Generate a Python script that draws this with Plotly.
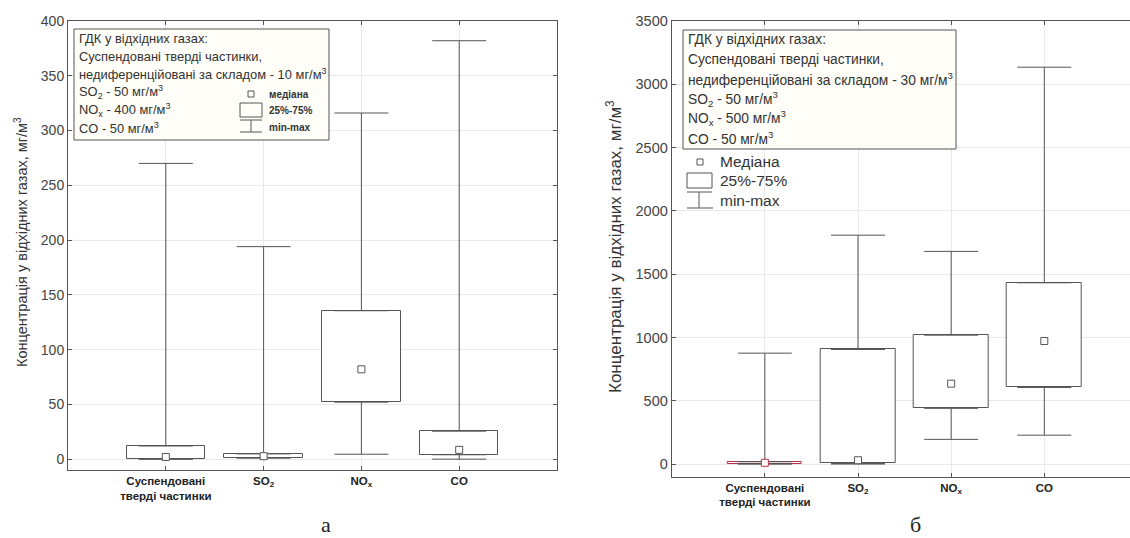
import plotly.graph_objects as go

W, H = 1130, 538

categories = ["<b>Суспендовані<br>тверді частинки</b>", "<b>SO<sub>2</sub></b>", "<b>NO<sub>x</sub></b>", "<b>CO</b>"]
cat_pos = [0, 1, 2, 3]

# panel а (ГДК set 1)
a_min = [0, 1, 4.5, 0]
a_q1 = [0, 1.2, 52, 4]
a_med = [2, 2.7, 82, 8.5]
a_q3 = [12, 4.8, 135.5, 25.5]
a_max = [270, 194, 316, 382]

# panel б (ГДК set 2)
b_min = [0, 0, 195, 228]
b_q1 = [2, 5, 440, 605]
b_med = [10, 30, 635, 972]
b_q3 = [18, 905, 1018, 1432]
b_max = [876, 1808, 1680, 3135]

legend_a = ["ГДК у відхідних газах:",
            "Суспендовані тверді частинки,",
            "недиференційовані за складом - 10 мг/м<sup>3</sup>",
            "SO<sub>2</sub> - 50 мг/м<sup>3</sup>",
            "NO<sub>x</sub> - 400 мг/м<sup>3</sup>",
            "CO - 50 мг/м<sup>3</sup>"]
legend_b = ["ГДК у відхідних газах:",
            "Суспендовані тверді частинки,",
            "недиференційовані за складом - 30 мг/м<sup>3</sup>",
            "SO<sub>2</sub> - 50 мг/м<sup>3</sup>",
            "NO<sub>x</sub> - 500 мг/м<sup>3</sup>",
            "CO - 50 мг/м<sup>3</sup>"]
key_a = ["<b>медіана</b>", "<b>25%-75%</b>", "<b>min-max</b>"]
key_b = ["Медіана", "25%-75%", "min-max"]
ytitle = "Концентрація у відхідних газах, мг/м<sup>3</sup>"

LC = "#555555"
RED = "#b4344c"
FONT = "Liberation Sans, Arial, sans-serif"


def px(x):
    return x / W


def py(y):
    return 1 - y / H


fig = go.Figure()


def add_panel(xa, ya, qmin, q1, med, q3, qmax, box_colors, med_colors):
    fig.add_trace(go.Bar(x=cat_pos, base=q1, y=[b - a for a, b in zip(q1, q3)], width=0.8,
                         marker=dict(color="white", line=dict(color=box_colors, width=1)),
                         xaxis=xa, yaxis=ya, showlegend=False, hoverinfo="skip"))
    fig.add_trace(go.Scatter(x=cat_pos, y=q3, mode="markers",
                             marker=dict(size=1, color="rgba(0,0,0,0)"),
                             error_y=dict(type="data", symmetric=False,
                                          array=[b - a for a, b in zip(q3, qmax)],
                                          arrayminus=[0] * 4, width=27, thickness=1, color=LC),
                             xaxis=xa, yaxis=ya, showlegend=False, hoverinfo="skip"))
    fig.add_trace(go.Scatter(x=cat_pos, y=q1, mode="markers",
                             marker=dict(size=1, color="rgba(0,0,0,0)"),
                             error_y=dict(type="data", symmetric=False,
                                          array=[0] * 4,
                                          arrayminus=[a - b for a, b in zip(q1, qmin)],
                                          width=27, thickness=1, color=LC),
                             xaxis=xa, yaxis=ya, showlegend=False, hoverinfo="skip"))
    fig.add_trace(go.Scatter(x=cat_pos, y=med, mode="markers",
                             marker=dict(symbol="square", size=7, color="white",
                                         line=dict(color=med_colors, width=1)),
                             xaxis=xa, yaxis=ya, showlegend=False, hoverinfo="skip"))


add_panel("x", "y", a_min, a_q1, a_med, a_q3, a_max, [LC] * 4, [LC] * 4)
add_panel("x2", "y2", b_min, b_q1, b_med, b_q3, b_max, [RED, LC, LC, LC], [RED, LC, LC, LC])

axis_common = dict(showline=True, linecolor=LC, linewidth=1, ticks="inside", ticklen=4,
                   tickcolor=LC, zeroline=False, showgrid=True, gridcolor="#e9e9e9",
                   automargin=False)

fig.update_layout(
    width=W, height=H, margin=dict(l=0, r=0, t=0, b=0, pad=0), autosize=False,
    paper_bgcolor="white", plot_bgcolor="white", bargap=0,
    font=dict(family=FONT, color="#333333"),
    xaxis=dict(domain=[px(68), px(557)], range=[-1, 4], tickvals=cat_pos, ticktext=categories,
               mirror="ticks", anchor="y", tickfont=dict(size=11.5, color="#222222"),
               **axis_common),
    yaxis=dict(domain=[py(470.1), py(21)], range=[-10, 400], dtick=50, mirror="ticks",
               anchor="x", tickfont=dict(size=14, color="#444444"), **axis_common),
    xaxis2=dict(domain=[px(671.7), 1.0], range=[-1, 3.92], tickvals=cat_pos, ticktext=categories,
                mirror="ticks", anchor="y2", tickfont=dict(size=11.5, color="#222222"),
                **axis_common),
    yaxis2=dict(domain=[py(476.7), py(21)], range=[-100, 3500], dtick=500, mirror=False,
                anchor="x2", tickfont=dict(size=14.5, color="#444444"), **axis_common),
)

shapes = []
ann = []


def note(x, y, text, size, color="#333333", family=FONT, xanchor="left", angle=0):
    ann.append(dict(x=px(x), y=py(y), xref="paper", yref="paper", text=text, showarrow=False,
                    xanchor=xanchor, yanchor="middle", textangle=angle,
                    font=dict(size=size, color=color, family=family)))


# y-axis titles
note(21, 242, ytitle, 14.5, xanchor="center", angle=-90)
note(614, 247, ytitle, 17, xanchor="center", angle=-90)

# legend box a
shapes.append(dict(type="rect", xref="paper", yref="paper", x0=px(74), x1=px(329), y0=py(29), y1=py(140),
                   line=dict(color=LC, width=1), fillcolor="#fffef8"))
for i, t in enumerate(legend_a):
    note(77, 38 + 18 * i, t, 12.9)
# key a
shapes.append(dict(type="rect", xref="paper", yref="paper", x0=px(248), x1=px(254), y0=py(91), y1=py(97),
                   line=dict(color=LC, width=1), fillcolor="white"))
shapes.append(dict(type="rect", xref="paper", yref="paper", x0=px(240), x1=px(262), y0=py(103), y1=py(117),
                   line=dict(color=LC, width=1), fillcolor="rgba(0,0,0,0)"))
for (x0, y0, x1, y1) in [(240, 120, 262, 120), (251, 120, 251, 132), (240, 132, 262, 132)]:
    shapes.append(dict(type="line", xref="paper", yref="paper", x0=px(x0), x1=px(x1), y0=py(y0), y1=py(y1),
                       line=dict(color=LC, width=1)))
for i, t in enumerate(key_a):
    note(267, 94 + 16.5 * i, t, 10)

# legend box b
shapes.append(dict(type="rect", xref="paper", yref="paper", x0=px(683), x1=px(956), y0=py(30), y1=py(149),
                   line=dict(color=LC, width=1), fillcolor="#fffef8"))
for i, t in enumerate(legend_b):
    note(686, 39.5 + 19.7 * i, t, 13.8)
# key b
shapes.append(dict(type="rect", xref="paper", yref="paper", x0=px(697), x1=px(703), y0=py(159), y1=py(165),
                   line=dict(color=LC, width=1), fillcolor="white"))
shapes.append(dict(type="rect", xref="paper", yref="paper", x0=px(687), x1=px(712), y0=py(173), y1=py(188),
                   line=dict(color=LC, width=1), fillcolor="rgba(0,0,0,0)"))
for (x0, y0, x1, y1) in [(687, 192, 712, 192), (699, 192, 699, 208), (687, 208, 713, 208)]:
    shapes.append(dict(type="line", xref="paper", yref="paper", x0=px(x0), x1=px(x1), y0=py(y0), y1=py(y1),
                       line=dict(color=LC, width=1)))
for i, t in enumerate(key_b):
    note(718, 162 + 19 * i, t, 15.5)

# panel letters
note(326, 524, "а", 22, color="#222222", family="Liberation Serif, Times New Roman, serif", xanchor="center")
note(915, 524, "б", 22, color="#222222", family="Liberation Serif, Times New Roman, serif", xanchor="center")

fig.update_layout(shapes=shapes, annotations=ann)
fig.write_html("out.html", config={"displayModeBar": False},
               post_script="document.body.style.margin='0';document.body.style.padding='0';")
